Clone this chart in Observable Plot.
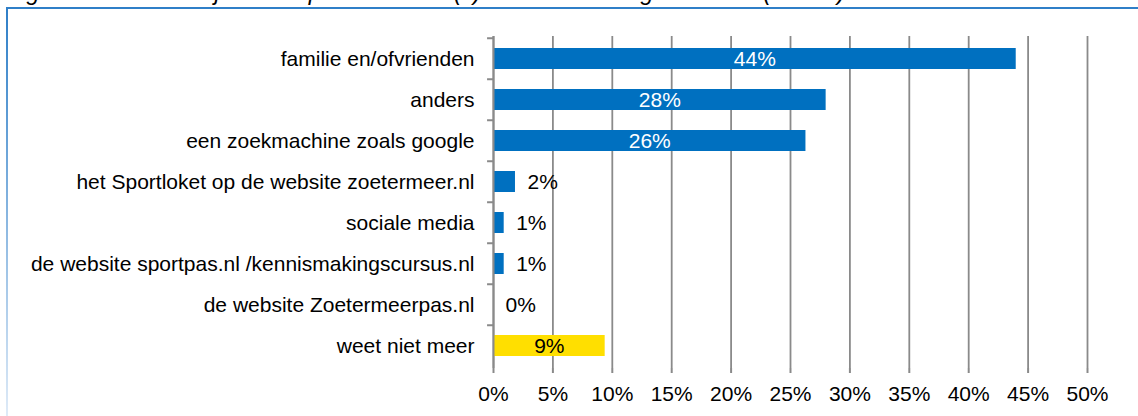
<!DOCTYPE html>
<html>
<head>
<meta charset="utf-8">
<script src="https://cdn.jsdelivr.net/npm/d3@7"></script>
<script src="https://cdn.jsdelivr.net/npm/@observablehq/plot@0.6"></script>
<style>
  html, body { margin: 0; padding: 0; background: #fff; overflow: hidden; }
  body { width: 1138px; height: 416px; position: relative; font-family: "Liberation Sans", Arial, sans-serif; }
  #title { position: absolute; left: 7px; top: -21px; font-size: 23.5px; font-style: italic; color: #000; white-space: nowrap; }
  #frame { position: absolute; left: 6px; top: 7px; width: 1140px; height: 420px;
           border-top: 2px solid #2f7fc8; }
  #frame::before { content: ""; position: absolute; left: 0; top: 0; width: 2px; height: 100%;
           background: linear-gradient(#2f7fc8, #e4eef9); }
  #chart { position: absolute; left: 0; top: 0; }
</style>
</head>
<body>
<div id="title">Figuur 2.5 Hoe heb je deze sportaanbieder(s) in Zoetermeer gevonden? (n=107)</div>
<div id="frame"></div>
<div id="chart"></div>
<script>
const categories = [
  "familie en/ofvrienden",
  "anders",
  "een zoekmachine zoals google",
  "het Sportloket op de website zoetermeer.nl",
  "sociale media",
  "de website sportpas.nl /kennismakingscursus.nl",
  "de website Zoetermeerpas.nl",
  "weet niet meer"
];
const values = [44.0, 28.0, 26.3, 1.85, 0.9, 0.9, 0, 9.4];
const valueLabels = ["44%", "28%", "26%", "2%", "1%", "1%", "0%", "9%"];
const xTicks = [0, 5, 10, 15, 20, 25, 30, 35, 40, 45, 50];

const data = categories.map((c, i) => ({category: c, value: values[i], label: valueLabels[i]}));
const isOther = d => d.category === "weet niet meer";
const inside = data.filter(d => d.value > 5);
const outside = data.filter(d => d.value <= 5);

const W = 1138, H = 416;
const mT = 36, mB = 48, mL = 493, mR = 51;
const step = (H - mT - mB) / categories.length;
const grey = "#8a8a8a";
const fs = 21;

const chart = Plot.plot({
  width: W, height: H,
  marginTop: mT, marginBottom: mB, marginLeft: mL, marginRight: mR,
  style: {fontFamily: "'Liberation Sans', Arial, sans-serif", fontSize: fs + "px", color: "#000", background: "transparent"},
  x: {domain: [0, 50], ticks: xTicks, tickFormat: d => d + "%", label: null},
  y: {domain: categories, paddingInner: 0.5, paddingOuter: 0.25, label: null},
  marks: [
    Plot.ruleX(xTicks, {x: d => d, stroke: grey, strokeWidth: 1.8}),
    Plot.ruleY([0], {x1: -0.5, x2: 50, y: () => null, frameAnchor: "bottom", stroke: grey, strokeWidth: 2}),
    Plot.axisX({ticks: xTicks, tickFormat: d => d + "%", tickSize: 5, tickPadding: 13, stroke: grey, strokeWidth: 2, fontSize: fs, fill: "#000", label: null}),
    Plot.ruleY(categories, {y: d => d, x1: -0.5, x2: 0, dy: -step / 2, stroke: grey, strokeWidth: 2}),
    Plot.axisY({tickSize: 0, tickPadding: 19, fontSize: fs, fill: "#000", label: null}),
    Plot.barX(data, {y: "category", x: "value", fill: d => isOther(d) ? "#ffdf00" : "#0070c0"}),
    Plot.ruleX([0], {stroke: grey, strokeWidth: 2}),
    Plot.text(inside, {y: "category", x: d => d.value / 2, text: "label", fill: d => isOther(d) ? "#000" : "#fff", fontSize: fs, dy: 0}),
    Plot.text(outside, {y: "category", x: "value", text: "label", textAnchor: "start", dx: 12, fill: "#000", fontSize: fs, dy: 0})
  ]
});
document.getElementById("chart").appendChild(chart);
</script>
</body>
</html>
